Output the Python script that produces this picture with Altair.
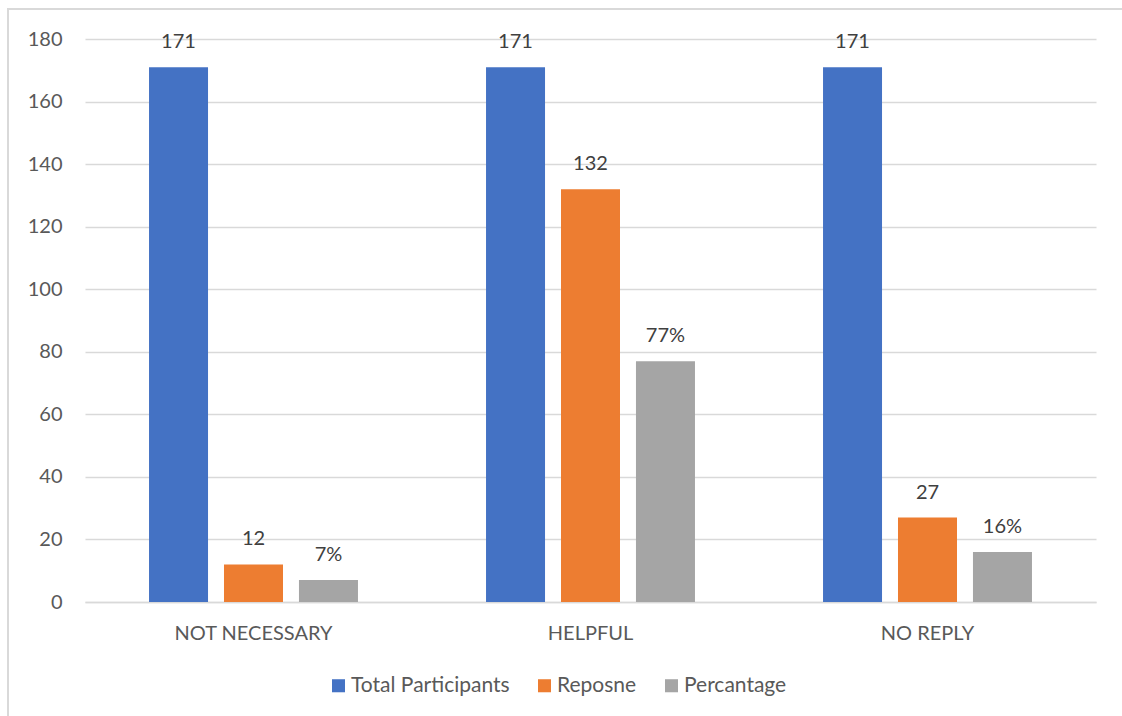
import altair as alt
import pandas as pd

categories = ["NOT NECESSARY", "HELPFUL", "NO REPLY"]
series = ["Total Participants", "Reposne", "Percantage"]
total_participants = [171, 171, 171]
reposne = [12, 132, 27]
percantage = [7, 77, 16]
colors = ["#4472C4", "#ED7D31", "#A5A5A5"]

rows = []
for name, values in zip(series, [total_participants, reposne, percantage]):
    for cat, v in zip(categories, values):
        label = f"{v}%" if name == "Percantage" else f"{v}"
        rows.append({"category": cat, "series": name, "value": v, "label": label})
df = pd.DataFrame(rows)

FONT = "Lato"
TEXT = "#595959"
GRID = "#D9D9D9"

x = alt.X("category:N", sort=categories, title=None,
          scale=alt.Scale(paddingInner=0.38, paddingOuter=0.19),
          axis=alt.Axis(labelAngle=0, labelFontSize=20, labelColor=TEXT, labelFont=FONT,
                        ticks=False, domainColor=GRID, domainWidth=1.5, labelPadding=21))
xo = alt.XOffset("series:N", sort=series,
                 scale=alt.Scale(paddingInner=0.213, paddingOuter=0))
y = alt.Y("value:Q", title=None,
          scale=alt.Scale(domain=[0, 180]),
          axis=alt.Axis(values=list(range(0, 181, 20)), labelFontSize=20, labelColor=TEXT,
                        labelFont=FONT, ticks=False, domain=False, gridColor=GRID,
                        gridWidth=1.4, labelPadding=23))

bars = alt.Chart(df).mark_bar().encode(
    x=x, xOffset=xo, y=y,
    color=alt.Color("series:N", sort=series,
                    scale=alt.Scale(domain=series, range=colors),
                    legend=alt.Legend(title=None, orient="none", legendX=243, legendY=636,
                                      direction="horizontal", symbolType="square",
                                      symbolSize=170, symbolStrokeWidth=0,
                                      labelFontSize=21, labelColor=TEXT, labelFont=FONT,
                                      labelOffset=2, columnPadding=24)),
)

labels = alt.Chart(df).mark_text(baseline="bottom", dy=-15, fontSize=20,
                                 font=FONT, color="#404040").encode(
    x=x, xOffset=xo, y=y, text="label:N"
)

frame = alt.Chart(df).mark_rect(fill=None, stroke=GRID, strokeWidth=1.5, clip=False).encode(
    x=alt.value(-77), x2=alt.value(1200), y=alt.value(-30), y2=alt.value(800)
)

chart = alt.layer(frame, bars, labels).properties(
    width=1011, height=563,
    autosize=alt.AutoSizeParams(type="none"),
    padding={"left": 85, "top": 39, "right": 26, "bottom": 114},
    background="white",
).configure_view(stroke=None)

chart.save("out.html", embed_options={"renderer": "svg", "actions": False})
